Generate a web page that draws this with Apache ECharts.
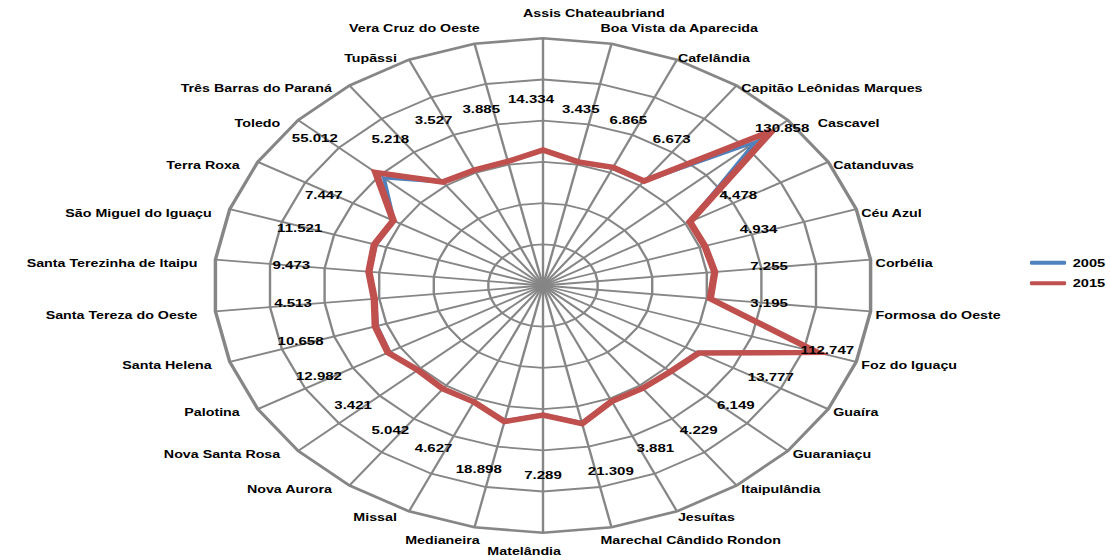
<!DOCTYPE html>
<html>
<head>
<meta charset="utf-8">
<script src="https://cdn.jsdelivr.net/npm/echarts@6/dist/echarts.min.js"></script>
<style>
  html, body { margin: 0; padding: 0; background: #ffffff; overflow: hidden; }
  #chart { height: 560px; transform-origin: 0 0; }
</style>
</head>
<body>
<div id="chart"></div>
<script>
// Municípios do Oeste do Paraná (eixos do radar, sentido horário a partir do topo)
const municipios = [
  'Assis Chateaubriand', 'Boa Vista da Aparecida', 'Cafelândia', 'Capitão Leônidas Marques',
  'Cascavel', 'Catanduvas', 'Céu Azul', 'Corbélia', 'Formosa do Oeste', 'Foz do Iguaçu',
  'Guaíra', 'Guaraniaçu', 'Itaipulândia', 'Jesuítas', 'Marechal Cândido Rondon',
  'Matelândia', 'Medianeira', 'Missal', 'Nova Aurora', 'Nova Santa Rosa', 'Palotina',
  'Santa Helena', 'Santa Tereza do Oeste', 'Santa Terezinha de Itaipu', 'São Miguel do Iguaçu',
  'Terra Roxa', 'Toledo', 'Três Barras do Paraná', 'Tupãssi', 'Vera Cruz do Oeste'
];

const valores2005 = [
  13.8, 3.0, 5.6, 6.0, 110.0, 4.4, 4.8, 7.0, 3.1, 110.0,
  12.3, 5.5, 3.8, 3.5, 20.0, 6.3, 17.5, 4.3, 4.7, 3.0, 11.5,
  9.0, 3.6, 9.0, 10.0, 6.8, 45.0, 5.0, 3.3, 3.7
];

const valores2015 = [
  14.334, 3.435, 6.865, 6.673, 130.858, 4.478, 4.934, 7.255, 3.195, 112.747,
  13.777, 6.149, 4.229, 3.881, 21.309, 7.289, 18.898, 4.627, 5.042, 3.421, 12.982,
  10.658, 4.513, 9.473, 11.521, 7.447, 55.012, 5.218, 3.527, 3.885
];

// Escala radial e anéis da grade
const eixoMin = -150;
const eixoMax = 150;
const aneis = [-100, -50, 0, 50, 100, 150];

const nomesSeries = ['2005', '2015'];

// O gráfico é desenhado num quadro mais estreito e esticado na horizontal
const ESTICA = 1.3325;
const largura = 1110 / ESTICA;
const el = document.getElementById('chart');
el.style.width = largura + 'px';
el.style.transform = 'scaleX(' + ESTICA + ')';

const FONTE = '"Liberation Sans", Arial, sans-serif';
const CINZA = '#868686';
const AZUL = '#4F81BD';
const VERMELHO = '#C0504D';
const N = municipios.length;

function anguloGraus(i) { return i * 360 / N; }

// Anéis poligonais da grade
function desenhaAnel(params, api) {
  const v = api.value(0);
  const pts = [];
  for (let i = 0; i < N; i++) pts.push(api.coord([v, i]));
  return {
    type: 'polygon',
    shape: { points: pts },
    style: { fill: 'none', stroke: CINZA, lineWidth: v === eixoMax ? 2.6 : 1.8 },
    silent: true
  };
}

// Raios da grade
function desenhaRaio(params, api) {
  const i = params.dataIndex;
  const a = api.coord([eixoMin, i]);
  const b = api.coord([eixoMax, i]);
  return {
    type: 'line',
    shape: { x1: a[0], y1: a[1], x2: b[0], y2: b[1] },
    style: { stroke: CINZA, lineWidth: 1.8 },
    silent: true
  };
}

// Contorno fechado de uma série (um polígono por ano)
function contorno(valores, cor, espessura) {
  return function (params, api) {
    if (params.dataIndex !== 0) return null;
    const pts = valores.map((v, i) => api.coord([v, i]));
    return {
      type: 'polygon',
      shape: { points: pts },
      style: {
        fill: 'none', stroke: cor, lineWidth: espessura,
        lineJoin: 'miter', miterLimit: 4
      },
      silent: true
    };
  };
}

// Nomes dos municípios na ponta de cada raio
function desenhaNome(params, api) {
  const i = params.dataIndex;
  const p = api.coord([eixoMax, i]);
  const t = anguloGraus(i);
  const c = Math.cos(t * Math.PI / 180);
  const ladoDireito = t < 180;
  const pesoTopo = Math.pow(Math.max(0, c), 20);
  const pesoBase = Math.pow(Math.max(0, -c), 20);
  const pesoVert = Math.pow(Math.abs(c), 20);
  const dy = 4 - 29 * pesoTopo + 15 * pesoBase;
  let dx = ladoDireito ? 5 - 25 * pesoVert : -18 + 36 * pesoVert;
  // afasta o nome quando o rótulo de valor encosta na ponta do raio
  if (valores2015[i] >= 120) dx += ladoDireito ? 25 : -25;
  return {
    type: 'text',
    x: p[0] + dx / ESTICA,
    y: p[1] + dy,
    style: {
      text: municipios[i],
      align: ladoDireito ? 'left' : 'right',
      verticalAlign: 'middle',
      fontFamily: FONTE,
      fontWeight: 'bold',
      fontSize: 10.7,
      fill: '#000000'
    },
    silent: true
  };
}

// Rótulos de valor da série 2015
function desenhaRotulo(params, api) {
  const i = params.dataIndex;
  const v = valores2015[i];
  const t = anguloGraus(i);
  const r = v >= 100 ? v : Math.max(68, v + 60);
  const p = api.coord([r, i]);
  let sx, sy;
  if (v >= 100) { sx = 10; sy = -2; }
  else if (t >= 120 && t < 180) { sx = 15; sy = -1; }
  else if (t === 180) { sx = 0; sy = 10; }
  else { sx = -12; sy = -1; }
  return {
    type: 'text',
    x: p[0] + sx / ESTICA,
    y: p[1] + sy,
    style: {
      text: v.toFixed(3),
      align: 'center',
      verticalAlign: 'middle',
      fontFamily: FONTE,
      fontWeight: 'bold',
      fontSize: 11.3,
      fill: '#000000'
    },
    silent: true
  };
}

const chart = echarts.init(el, null, { renderer: 'svg' });

chart.setOption({
  animation: false,
  backgroundColor: '#ffffff',
  polar: { center: [543 / ESTICA, 285.5], radius: 247.2 },
  angleAxis: {
    type: 'category',
    data: municipios,
    boundaryGap: false,
    startAngle: 90,
    clockwise: true,
    axisLine: { show: false },
    axisTick: { show: false },
    axisLabel: { show: false },
    splitLine: { show: false }
  },
  radiusAxis: {
    type: 'value',
    min: eixoMin,
    max: eixoMax,
    interval: 50,
    axisLine: { show: false },
    axisTick: { show: false },
    axisLabel: { show: false },
    splitLine: { show: false }
  },
  legend: {
    orient: 'vertical',
    left: 773,
    top: 255.7,
    padding: 0,
    itemWidth: 27,
    itemHeight: 4,
    itemGap: 6.6,
    icon: 'roundRect',
    data: nomesSeries,
    textStyle: {
      fontFamily: FONTE, fontWeight: 'bold', fontSize: 11,
      color: '#000000', lineHeight: 14
    }
  },
  series: [
    {
      type: 'custom', coordinateSystem: 'polar', z: 1, silent: true,
      data: aneis.map(v => [v, 0]),
      renderItem: desenhaAnel
    },
    {
      type: 'custom', coordinateSystem: 'polar', z: 1, silent: true,
      data: municipios.map((m, i) => [eixoMax, i]),
      renderItem: desenhaRaio
    },
    {
      name: nomesSeries[0], type: 'custom', coordinateSystem: 'polar', z: 3,
      data: valores2005.map((v, i) => [v, i]),
      itemStyle: { color: AZUL },
      renderItem: contorno(valores2005, AZUL, 3)
    },
    {
      name: nomesSeries[1], type: 'custom', coordinateSystem: 'polar', z: 4,
      data: valores2015.map((v, i) => [v, i]),
      itemStyle: { color: VERMELHO },
      renderItem: contorno(valores2015, VERMELHO, 5.5)
    },
    {
      type: 'custom', coordinateSystem: 'polar', z: 6, silent: true,
      data: municipios.map((m, i) => [eixoMax, i]),
      renderItem: desenhaNome
    },
    {
      type: 'custom', coordinateSystem: 'polar', z: 6, silent: true,
      data: valores2015.map((v, i) => [v, i]),
      renderItem: desenhaRotulo
    }
  ]
});
</script>
</body>
</html>
